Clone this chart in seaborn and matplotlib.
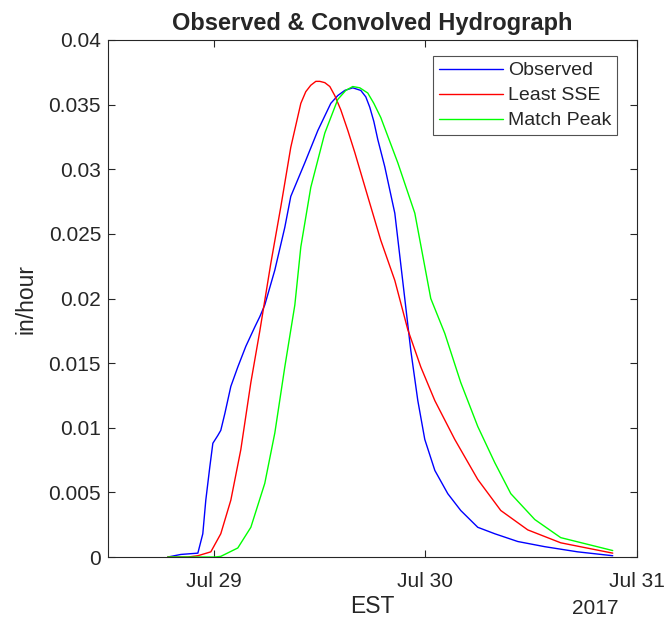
import numpy as np
import pandas as pd
import matplotlib
matplotlib.use("Agg")
import matplotlib.pyplot as plt
import matplotlib.dates as mdates
import seaborn as sns

# hours after 2017-07-29 00:00 (EST) and flow in in/hour
obs_h = [-5.22, -3.74, -1.81, -1.25, -0.91, -0.45, -0.11, 0.45, 0.79, 1.25, 1.93,
         2.72, 3.63, 4.65, 5.22, 5.78, 6.92, 8.05, 8.73, 10.32, 11.80, 13.27, 14.06,
         14.86, 15.76, 16.67, 17.24, 17.69, 18.15, 18.60, 19.39, 20.53, 21.66, 22.34,
         23.14, 23.93, 25.07, 26.54, 28.01, 29.94, 31.87, 34.48, 37.54, 41.28, 45.25]
obs_q = [0, 0.0002, 0.0003, 0.0018, 0.0044, 0.0070, 0.0088, 0.0094, 0.0098, 0.0111,
         0.0132, 0.0147, 0.0163, 0.0178, 0.0186, 0.0195, 0.0222, 0.0255, 0.0279, 0.0305,
         0.0330, 0.0351, 0.0357, 0.0361, 0.0363, 0.0361, 0.0356, 0.0348, 0.0337, 0.0323,
         0.0302, 0.0266, 0.0200, 0.0160, 0.0121, 0.0091, 0.0067, 0.0049, 0.0036, 0.0023,
         0.0018, 0.0012, 0.0008, 0.0004, 0.0001]

sse_h = [-5.22, -2.95, -1.81, -0.34, 0.79, 1.93, 3.06, 4.20, 5.22, 6.46, 7.60, 8.73,
         9.87, 10.43, 11.00, 11.57, 12.02, 12.59, 13.16, 13.72, 14.40, 15.20, 15.99,
         17.46, 18.94, 20.53, 22.00, 23.48, 25.07, 27.33, 29.94, 32.55, 35.61, 39.35,
         45.25]
sse_q = [0, 0, 0.0001, 0.0004, 0.0018, 0.0044, 0.0083, 0.0135, 0.0175, 0.0227, 0.0271,
         0.0317, 0.0351, 0.0360, 0.0365, 0.0368, 0.0368, 0.0367, 0.0364, 0.0357, 0.0346,
         0.0330, 0.0313, 0.0279, 0.0245, 0.0214, 0.0176, 0.0147, 0.0121, 0.0091, 0.0060,
         0.0036, 0.0021, 0.0011, 0.0003]

pk_h = [-5.22, 0.11, 0.79, 2.72, 4.20, 5.78, 6.92, 8.05, 9.19, 9.87, 11.00, 12.59,
        14.06, 14.97, 15.76, 16.56, 17.46, 18.15, 18.94, 20.87, 22.80, 24.61, 26.20,
        28.01, 29.94, 31.87, 33.69, 36.41, 39.35, 45.25]
pk_q = [0, 0, 0.00005, 0.0007, 0.0023, 0.0057, 0.0096, 0.0147, 0.0195, 0.0240, 0.0286,
        0.0328, 0.0354, 0.0361, 0.0364, 0.0363, 0.0359, 0.0351, 0.0340, 0.0305, 0.0266,
        0.0200, 0.0173, 0.0135, 0.0101, 0.0073, 0.0049, 0.0029, 0.0015, 0.0005]

series = ["Observed", "Least SSE", "Match Peak"]
colors = ["#0000ff", "#ff0000", "#00ff00"]
ytick_labels = ["0", "0.005", "0.01", "0.015", "0.02", "0.025", "0.03", "0.035", "0.04"]

t0 = pd.Timestamp("2017-07-29 00:00")
frames = []
for name, h, q in zip(series, [obs_h, sse_h, pk_h], [obs_q, sse_q, pk_q]):
    frames.append(pd.DataFrame({"time": t0 + pd.to_timedelta(h, unit="h"),
                                "flow": q, "series": name}))
df = pd.concat(frames, ignore_index=True)

sns.set_theme(style="white")
plt.rcParams["font.family"] = ["Liberation Sans", "DejaVu Sans"]
plt.rcParams["axes.edgecolor"] = "#262626"
plt.rcParams["xtick.color"] = "#262626"
plt.rcParams["ytick.color"] = "#262626"

fig = plt.figure(figsize=(6.64, 6.23), dpi=100)
ax = fig.add_axes([0.1627, 0.1059, 0.7966, 0.8299])
sns.lineplot(data=df, x="time", y="flow", hue="series", hue_order=series,
             palette=colors, sort=False, estimator=None, lw=1.0, ax=ax)

ax.set_xlim(pd.Timestamp("2017-07-28 12:00"), pd.Timestamp("2017-07-31 00:00"))
ax.set_ylim(0, 0.04)
ax.set_yticks(np.arange(0, 0.0401, 0.005))
ax.set_yticklabels(ytick_labels)
ax.xaxis.set_major_locator(mdates.DayLocator())
ax.xaxis.set_major_formatter(mdates.DateFormatter("%b %d"))
ax.tick_params(direction="in", length=5, width=0.8, labelsize=15, top=True, right=True,
               bottom=True, left=True, labelcolor="#262626")
ax.tick_params(axis="x", pad=11)
ax.tick_params(axis="y", pad=5)
for s in ax.spines.values():
    s.set_linewidth(0.8)

ax.set_xlabel("EST", fontsize=16.5, color="#262626", labelpad=3)
ax.set_ylabel("in/hour", fontsize=16.5, color="#262626", labelpad=8)
ax.set_title("Observed & Convolved Hydrograph", fontsize=17, fontweight="bold", pad=7)
ax.text(0.9216, -0.0986, "2017", transform=ax.transAxes, ha="center", va="center",
        fontsize=15, color="#262626")

leg = ax.legend(loc="upper right", bbox_to_anchor=(0.962, 0.969), fontsize=14,
                frameon=True, fancybox=False, edgecolor="#262626", handlelength=3.3,
                borderaxespad=0, handletextpad=0.25, labelspacing=0.38, borderpad=0.3)
leg.get_frame().set_linewidth(0.8)

fig.savefig("out.png", dpi=100, facecolor="white")
